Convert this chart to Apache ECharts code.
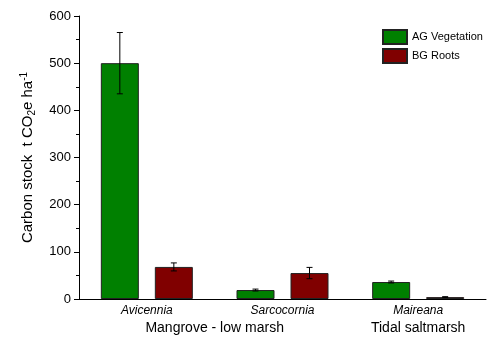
<!DOCTYPE html>
<html><head><meta charset="utf-8">
<script src="https://cdn.jsdelivr.net/npm/echarts@6/dist/echarts.min.js"></script>
<style>html,body{margin:0;padding:0;background:#fff}#c{width:494px;height:338px}</style>
</head><body><div id="c"></div>
<script>
const species = ['Avicennia', 'Sarcocornia', 'Maireana'];
const groups = ['Mangrove - low marsh', 'Tidal saltmarsh'];
const groupPos = [0.5, 2]; // position in category units (0 = first category centre)
const agValues = [500, 19, 36];
const agErr = [65, 2, 2];
const bgValues = [68, 55, 4];
const bgErr = [8.5, 12, 1];
const yTicks = [0, 100, 200, 300, 400, 500, 600];

const FONT = 'Liberation Sans, Arial, sans-serif';
const BAR_W = 38, GAP = 16;
const chart = echarts.init(document.getElementById('c'));

function errSeries(vals, errs, offset) {
  return {
    type: 'custom',
    z: 5,
    data: vals.map((v, i) => [i, v, errs[i]]),
    renderItem: function (params, api) {
      const i = api.value(0), v = api.value(1), e = api.value(2);
      const top = api.coord([i, v + e]);
      const bot = api.coord([i, v - e]);
      const x = top[0] + offset;
      const cw = 3;
      const st = { stroke: '#000', lineWidth: 1 };
      return { type: 'group', children: [
        { type: 'line', shape: { x1: x, y1: top[1], x2: x, y2: bot[1] }, style: st },
        { type: 'line', shape: { x1: x - cw, y1: top[1], x2: x + cw, y2: top[1] }, style: st },
        { type: 'line', shape: { x1: x - cw, y1: bot[1], x2: x + cw, y2: bot[1] }, style: st }
      ]};
    }
  };
}

const off = (BAR_W + GAP) / 2;
chart.setOption({
  animation: false,
  textStyle: { fontFamily: FONT },
  grid: { left: 79, right: 8, top: 16, bottom: 39 },
  legend: {
    orient: 'vertical', left: 377, top: 24, itemWidth: 24, itemHeight: 14, itemGap: 3,
    icon: 'rect',
    textStyle: { fontFamily: FONT, fontSize: 11, color: '#000' },
    data: ['AG Vegetation', 'BG Roots']
  },
  xAxis: {
    type: 'category', data: species,
    axisLine: { lineStyle: { color: '#000', width: 1 } },
    axisTick: { show: false },
    axisLabel: { fontFamily: FONT, fontSize: 12, fontStyle: 'italic', color: '#000', margin: 6 }
  },
  yAxis: {
    type: 'value', min: yTicks[0], max: yTicks[yTicks.length - 1], interval: 100,
    name: 'Carbon stock  t CO{sub|2}e ha{sup|-1}',
    nameLocation: 'middle', nameGap: 42,
    nameTextStyle: { fontFamily: FONT, fontSize: 15, color: '#000',
      rich: { sub: { fontSize: 10, verticalAlign: 'bottom', padding: [8, 0, 0, 0] },
              sup: { fontSize: 10, verticalAlign: 'top', padding: [0, 0, 6, 0] } } },
    axisLine: { show: true, lineStyle: { color: '#000', width: 1 } },
    axisTick: { show: true, length: 5, lineStyle: { color: '#000' } },
    minorTick: { show: true, splitNumber: 2, length: 3, lineStyle: { color: '#000' } },
    splitLine: { show: false },
    axisLabel: { fontFamily: FONT, fontSize: 13, color: '#000', margin: 8 }
  },
  series: [
    { name: 'AG Vegetation', type: 'bar', data: agValues, barWidth: BAR_W, barGap: (GAP / BAR_W * 100) + '%',
      itemStyle: { color: '#008000', borderColor: '#222', borderWidth: 1 } },
    { name: 'BG Roots', type: 'bar', data: bgValues, barWidth: BAR_W,
      itemStyle: { color: '#800000', borderColor: '#222', borderWidth: 1 } },
    errSeries(agValues, agErr, -off),
    errSeries(bgValues, bgErr, off)
  ]
});

const gfx = groups.map((g, k) => {
  const p0 = chart.convertToPixel({ xAxisIndex: 0 }, 0);
  const p1 = chart.convertToPixel({ xAxisIndex: 0 }, 1);
  const x = p0 + (p1 - p0) * groupPos[k];
  return { type: 'text', x: x, y: 328, style: { text: g, font: '14px ' + FONT, fill: '#000', align: 'center', verticalAlign: 'middle' } };
});
chart.setOption({ graphic: gfx });
</script>
</body></html>
